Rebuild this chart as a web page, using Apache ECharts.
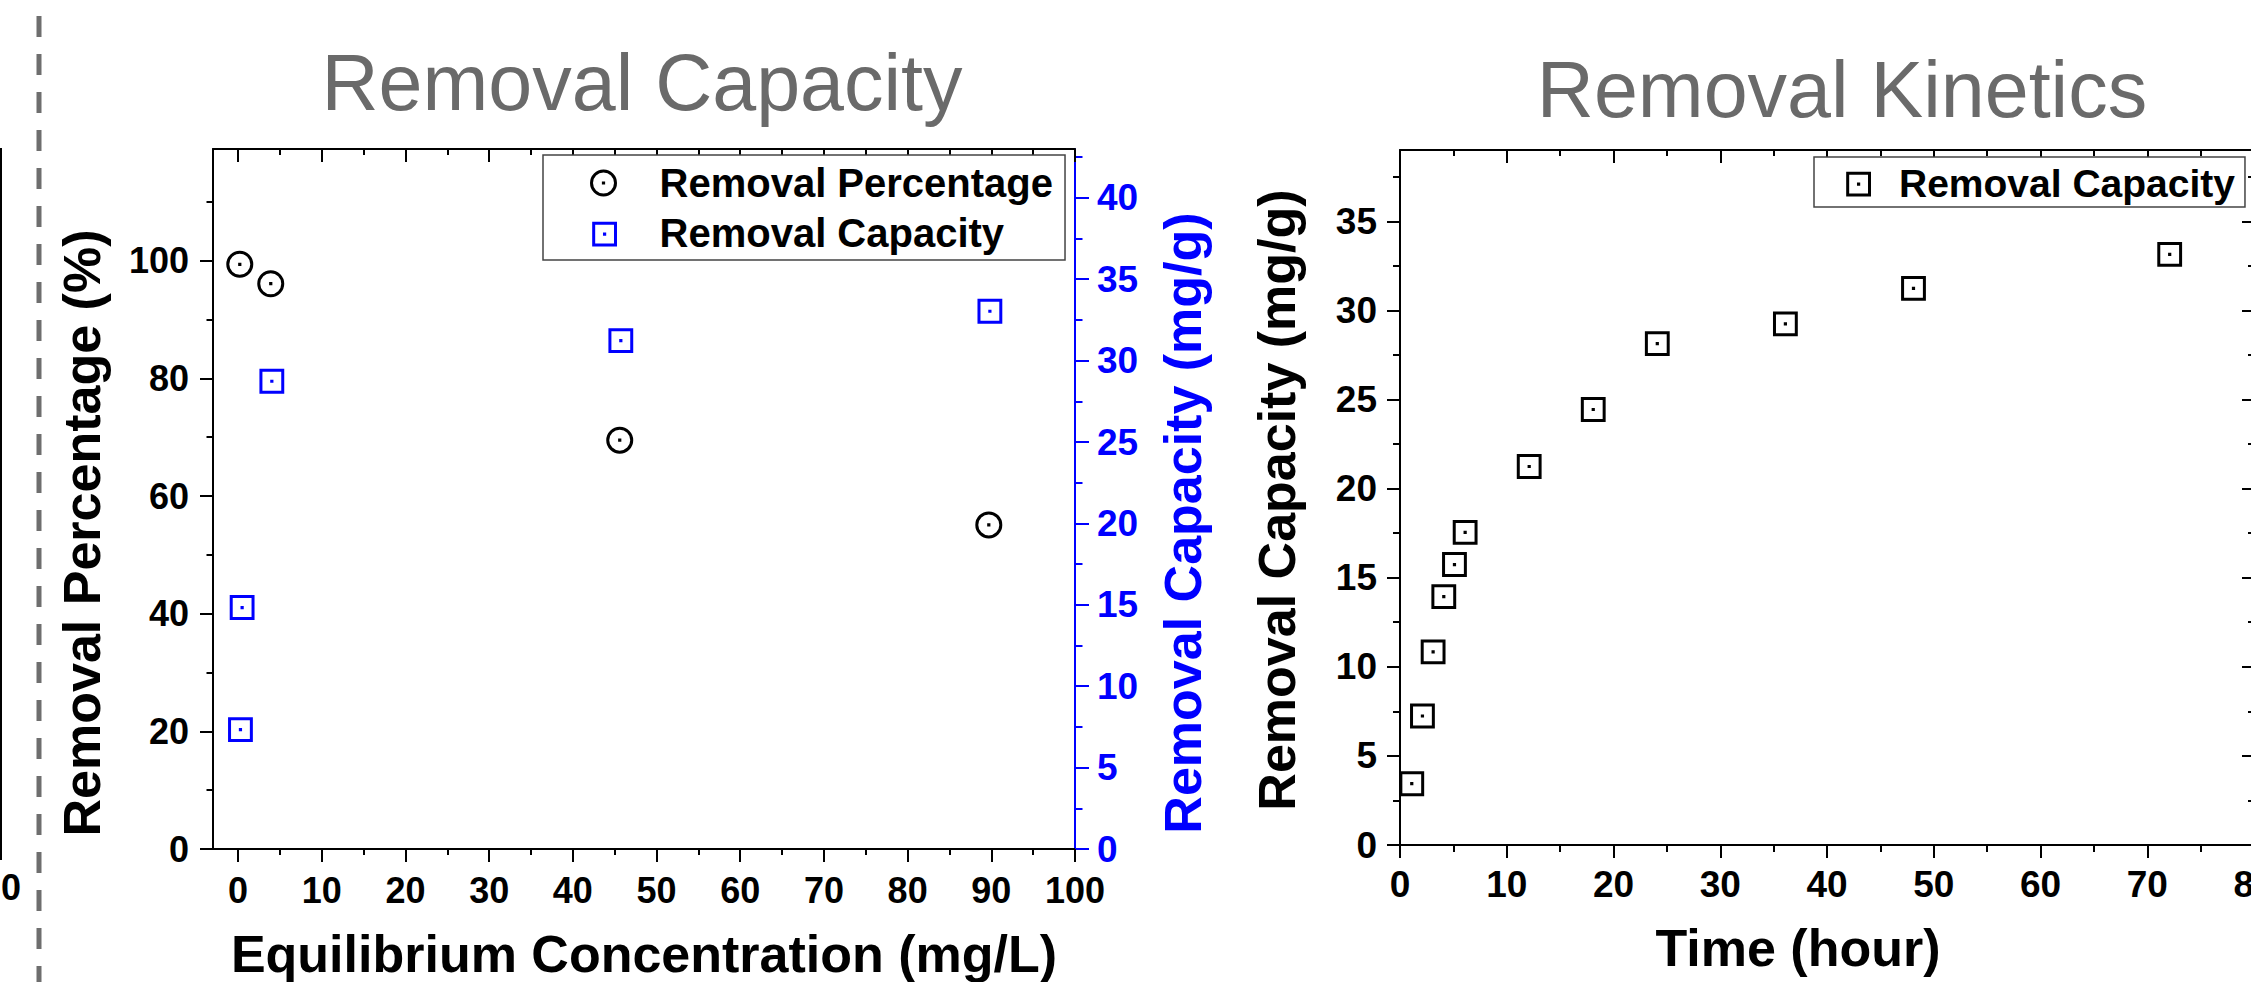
<!DOCTYPE html>
<html>
<head>
<meta charset="utf-8">
<title>Removal Capacity / Removal Kinetics</title>
<script src="https://cdn.jsdelivr.net/npm/echarts@6/dist/echarts.min.js"></script>
<style>
  html, body { margin: 0; padding: 0; background: #fff; }
  #chart { width: 2251px; height: 982px; }
</style>
</head>
<body>
<div id="chart"></div>
<script>
// removal capacity (isotherm) — x: equilibrium concentration (mg/L)
const eqConcPct = [0.2, 3.9, 45.6, 89.7]
const removalPct = [99.4, 96.1, 69.5, 55.1]
const eqConcCap = [0.15, 0.35, 3.9, 45.6, 89.7]
const removalCap = [7.4, 14.9, 28.8, 31.3, 33.1]

// removal kinetics — x: time (hour)
const timeHours = [1, 2, 3, 4, 5, 6, 12, 18, 24, 36, 48, 72]
const kineticCap = [3.5, 7.3, 10.9, 14.0, 15.8, 17.6, 21.3, 24.5, 28.2, 29.3, 31.3, 33.2]

// tick values
const concTicks = [0, 10, 20, 30, 40, 50, 60, 70, 80, 90, 100]
const concMinor = [5, 15, 25, 35, 45, 55, 65, 75, 85, 95]
const pctTicks = [0, 20, 40, 60, 80, 100]
const pctMinor = [10, 30, 50, 70, 90, 110]
const capTicks = [0, 5, 10, 15, 20, 25, 30, 35, 40]
const capMinor = [2.5, 7.5, 12.5, 17.5, 22.5, 27.5, 32.5, 37.5, 42.5]
const timeTicks = [0, 10, 20, 30, 40, 50, 60, 70, 80]
const timeMinor = [5, 15, 25, 35, 45, 55, 65, 75]
const kinTicks = [0, 5, 10, 15, 20, 25, 30, 35]
const kinMinor = [2.5, 7.5, 12.5, 17.5, 22.5, 27.5, 32.5, 37.5]

const FONT = '"Liberation Sans", Arial, sans-serif'
const BLUE = '#0000ff'
const GREY = '#6a6a6a'

// symbols with a centre dot (Origin style)
const RING = 'path://M10,0C15.52,0,20,4.48,20,10C20,15.52,15.52,20,10,20C4.48,20,0,15.52,0,10C0,4.48,4.48,0,10,0Z M9.9,9.9L10.1,9.9L10.1,10.1L9.9,10.1Z'
const BOX = 'path://M-2,-2M0,0L20,0L20,20L0,20Z M9.9,9.9L10.1,9.9L10.1,10.1L9.9,10.1Z'

// one axis = one set of ticks (major / minor are separate axes)
function axis(o) {
  const color = o.color || '#000'
  return {
    type: 'value',
    gridIndex: o.grid,
    position: o.position,
    min: o.min,
    max: o.max,
    splitLine: {show: false},
    axisLine: {show: o.line !== false, onZero: false, lineStyle: {color, width: 2}},
    axisTick: {
      show: true,
      inside: !!o.inside,
      length: o.len,
      customValues: o.ticks,
      lineStyle: {color, width: 2},
    },
    axisLabel: o.labels ? {
      show: true,
      customValues: o.ticks,
      color,
      fontFamily: FONT,
      fontWeight: 'bold',
      fontSize: o.fontSize || 36,
      margin: o.margin,
    } : {show: false},
  }
}

function text(str, x, y, font, fill, rot) {
  return {
    type: 'text',
    x, y,
    rotation: rot || 0,
    style: {text: str, font, fill, textAlign: 'center', textVerticalAlign: 'middle'},
  }
}

const chart = echarts.init(document.getElementById('chart'), null, {renderer: 'svg'})

const option = {
  animation: false,
  backgroundColor: '#fff',
  textStyle: {fontFamily: FONT},
  grid: [
    {left: 213, top: 149, width: 862, height: 700, outerBoundsMode: 'none'},
    {left: 1400, top: 150, width: 854, height: 695, outerBoundsMode: 'none'},
  ],
  xAxis: [
    axis({grid: 0, position: 'bottom', min: -3, max: 100, ticks: concTicks, len: 13, labels: true, margin: 23}),
    axis({grid: 0, position: 'bottom', min: -3, max: 100, ticks: concMinor, len: 6, line: false}),
    axis({grid: 0, position: 'top', min: -3, max: 100, ticks: concTicks, len: 13, inside: true}),
    axis({grid: 0, position: 'top', min: -3, max: 100, ticks: concMinor, len: 6, inside: true, line: false}),
    axis({grid: 1, position: 'bottom', min: 0, max: 80, ticks: timeTicks, len: 13, labels: true, margin: 21, fontSize: 37}),
    axis({grid: 1, position: 'bottom', min: 0, max: 80, ticks: timeMinor, len: 7, line: false}),
    axis({grid: 1, position: 'top', min: 0, max: 80, ticks: timeTicks, len: 13, inside: true}),
    axis({grid: 1, position: 'top', min: 0, max: 80, ticks: timeMinor, len: 6, inside: true, line: false}),
  ],
  yAxis: [
    axis({grid: 0, position: 'left', min: 0, max: 119, ticks: pctTicks, len: 13, labels: true, margin: 24}),
    axis({grid: 0, position: 'left', min: 0, max: 119, ticks: pctMinor, len: 6.5, line: false}),
    axis({grid: 0, position: 'right', min: 0, max: 43, ticks: capTicks, len: 14, labels: true, color: BLUE, margin: 22, fontSize: 37}),
    axis({grid: 0, position: 'right', min: 0, max: 43, ticks: capMinor, len: 7.5, color: BLUE, line: false}),
    axis({grid: 1, position: 'left', min: 0, max: 39, ticks: kinTicks, len: 13, labels: true, margin: 23, fontSize: 37}),
    axis({grid: 1, position: 'left', min: 0, max: 39, ticks: kinMinor, len: 7, line: false}),
    axis({grid: 1, position: 'right', min: 0, max: 39, ticks: kinTicks, len: 12, inside: true}),
    axis({grid: 1, position: 'right', min: 0, max: 39, ticks: kinMinor, len: 6, inside: true, line: false}),
  ],
  legend: [
    {
      data: ['Removal Percentage', 'Removal Capacity'],
      orient: 'vertical',
      left: 543, top: 155,
      padding: [8, 12, 7, 47],
      itemWidth: 102, itemHeight: 24, itemGap: 10,
      symbolKeepAspect: true,
      selectedMode: false,
      backgroundColor: '#fff',
      borderColor: '#444', borderWidth: 1.5, borderRadius: 0,
      itemStyle: {borderWidth: 3},
      textStyle: {fontFamily: FONT, fontWeight: 'bold', fontSize: 40, color: '#000', lineHeight: 40},
    },
    {
      data: ['Kinetics Capacity'],
      formatter: () => 'Removal Capacity',
      orient: 'vertical',
      left: 1814, top: 157,
      padding: [6, 10, 4, 30],
      itemWidth: 73, itemHeight: 24,
      symbolKeepAspect: true,
      selectedMode: false,
      backgroundColor: '#fff',
      borderColor: '#444', borderWidth: 1.5, borderRadius: 0,
      itemStyle: {borderWidth: 3},
      textStyle: {fontFamily: FONT, fontWeight: 'bold', fontSize: 39, color: '#000', lineHeight: 40},
    },
  ],
  series: [
    {
      name: 'Removal Percentage',
      type: 'scatter',
      xAxisIndex: 0, yAxisIndex: 0,
      symbol: RING, symbolSize: 24, symbolKeepAspect: true,
      itemStyle: {color: '#fff', borderColor: '#000', borderWidth: 3, opacity: 1},
      emphasis: {disabled: true},
      data: eqConcPct.map((x, i) => [x, removalPct[i]]),
    },
    {
      name: 'Removal Capacity',
      type: 'scatter',
      xAxisIndex: 0, yAxisIndex: 2,
      symbol: BOX, symbolSize: 24, symbolKeepAspect: true,
      itemStyle: {color: '#fff', borderColor: BLUE, borderWidth: 3, opacity: 1},
      emphasis: {disabled: true},
      data: eqConcCap.map((x, i) => [x, removalCap[i]]),
    },
    {
      name: 'Kinetics Capacity',
      type: 'scatter',
      xAxisIndex: 4, yAxisIndex: 4,
      symbol: BOX, symbolSize: 24, symbolKeepAspect: true,
      itemStyle: {color: '#fff', borderColor: '#000', borderWidth: 3, opacity: 1},
      emphasis: {disabled: true},
      data: timeHours.map((x, i) => [x, kineticCap[i]]),
    },
  ],
  graphic: [
    // slide leftovers: edge of previous panel and the dashed divider
    {type: 'line', shape: {x1: 39, y1: -22, x2: 39, y2: 1000}, style: {stroke: '#6e6e6e', lineWidth: 5, lineDash: [21, 17]}},
    {type: 'line', shape: {x1: 1, y1: 148, x2: 1, y2: 860}, style: {stroke: '#000', lineWidth: 2}},
    text('0', 11, 887, 'bold 36px ' + FONT, '#000'),
    // panel titles
    text('Removal Capacity', 642, 82, '79px ' + FONT, GREY),
    text('Removal Kinetics', 1842, 89, '79px ' + FONT, GREY),
    // axis titles
    text('Equilibrium Concentration (mg/L)', 644, 954, 'bold 52px ' + FONT, '#000'),
    text('Removal Percentage (%)', 82, 533, 'bold 52px ' + FONT, '#000', Math.PI / 2),
    text('Removal Capacity (mg/g)', 1183, 523, 'bold 52px ' + FONT, BLUE, Math.PI / 2),
    text('Removal Capacity (mg/g)', 1277, 500, 'bold 52px ' + FONT, '#000', Math.PI / 2),
    text('Time (hour)', 1798, 948, 'bold 52px ' + FONT, '#000'),
  ],
}

chart.setOption(option)
</script>
</body>
</html>
